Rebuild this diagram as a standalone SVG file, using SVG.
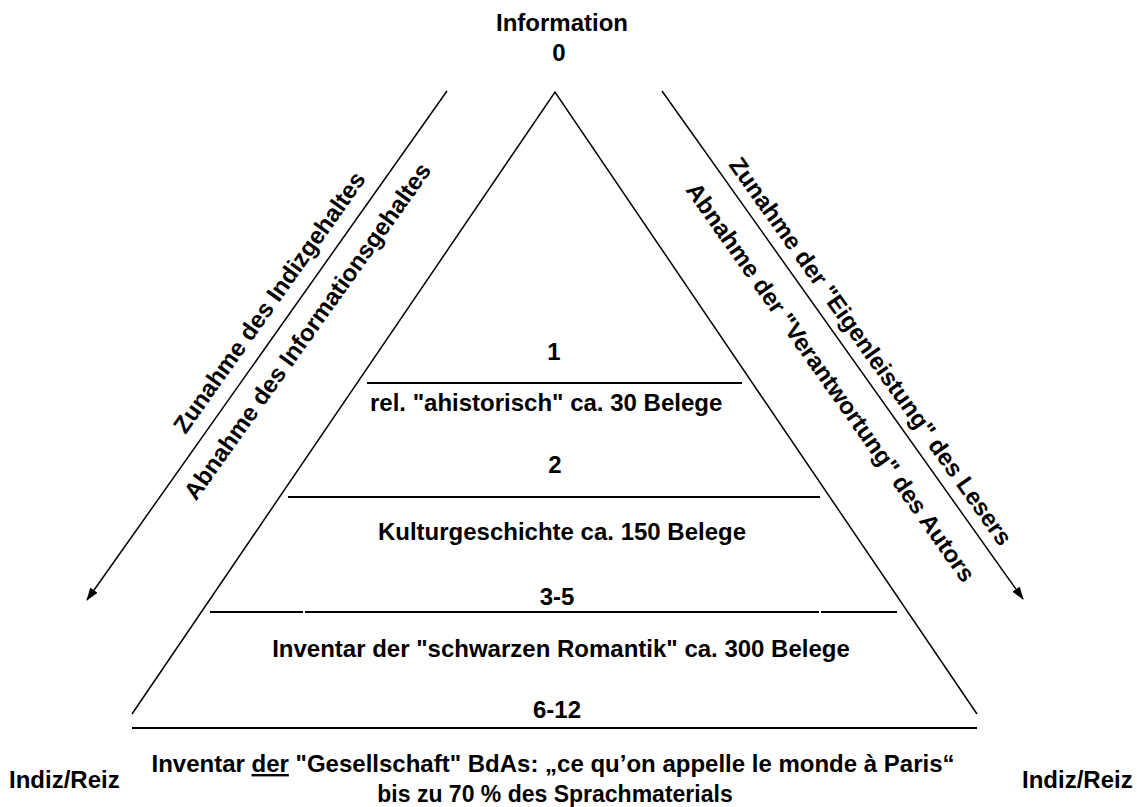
<svg xmlns="http://www.w3.org/2000/svg" width="1137" height="807" viewBox="0 0 1137 807">
<defs>
<marker id="ah" markerWidth="13" markerHeight="10" refX="12" refY="5" orient="auto" markerUnits="userSpaceOnUse">
<path d="M0,0.5 L13,5 L0,9.5 Z" fill="#000"/>
</marker>
<style>
text{font-family:"Liberation Sans",Arial,sans-serif;font-weight:bold;font-size:24px;fill:#000}
.c{text-anchor:middle}
.ln{stroke:#000;stroke-width:1.5;fill:none}
.hl{stroke:#000;stroke-width:2;fill:none}
</style>
</defs>
<rect width="1137" height="807" fill="#fff"/>
<g id="connectors">
<line class="ln" x1="447" y1="91" x2="87" y2="600" marker-end="url(#ah)"/>
<line class="ln" x1="662" y1="91" x2="1023" y2="599" marker-end="url(#ah)"/>
</g>
<g id="triangle">
<polyline class="ln" points="132,714 555,92 977,714"/>
<line class="hl" x1="367" y1="383" x2="742" y2="383"/>
<line class="hl" x1="288" y1="497" x2="820" y2="497"/>
<line class="hl" x1="210" y1="612" x2="303" y2="612"/>
<line class="hl" x1="305" y1="612" x2="819" y2="612"/>
<line class="hl" x1="821" y1="612" x2="897" y2="612"/>
<line class="hl" x1="132" y1="728" x2="977" y2="728"/>
</g>
<g id="top">
<text class="c" x="562" y="31">Information</text>
<text class="c" x="559" y="61">0</text>
</g>
<g id="level1">
<text class="c" x="554" y="360">1</text>
<text x="370" y="411">rel. "ahistorisch" ca. 30 Belege</text>
</g>
<g id="level2">
<text class="c" x="555" y="473">2</text>
<text class="c" x="562" y="540">Kulturgeschichte ca. 150 Belege</text>
</g>
<g id="level3">
<text class="c" x="557" y="605">3-5</text>
<text class="c" x="561" y="657">Inventar der "schwarzen Romantik" ca. 300 Belege</text>
</g>
<g id="level4">
<text class="c" x="557" y="718">6-12</text>
<text class="c" x="553" y="772">Inventar <tspan text-decoration="underline">der</tspan> "Gesellschaft" BdAs: „ce qu’on appelle le monde à Paris“</text>
<text class="c" x="555" y="802" style="font-size:23px">bis zu 70 % des Sprachmaterials</text>
</g>
<g id="indiz-left">
<text x="9" y="788">Indiz/Reiz</text>
</g>
<g id="indiz-right">
<text x="1022" y="788">Indiz/Reiz</text>
</g>
<g id="left-labels">
<text class="c" transform="translate(276,307) rotate(-54.7)">Zunahme des Indizgehaltes</text>
<text class="c" transform="translate(314,336) rotate(-54.5)">Abnahme des Informationsgehaltes</text>
</g>
<g id="right-labels">
<text class="c" transform="translate(864,356) rotate(54.6)">Zunahme der "Eigenleistung" des Lesers</text>
<text class="c" transform="translate(824,387) rotate(54.8)">Abnahme der "Verantwortung" des Autors</text>
</g>
</svg>
